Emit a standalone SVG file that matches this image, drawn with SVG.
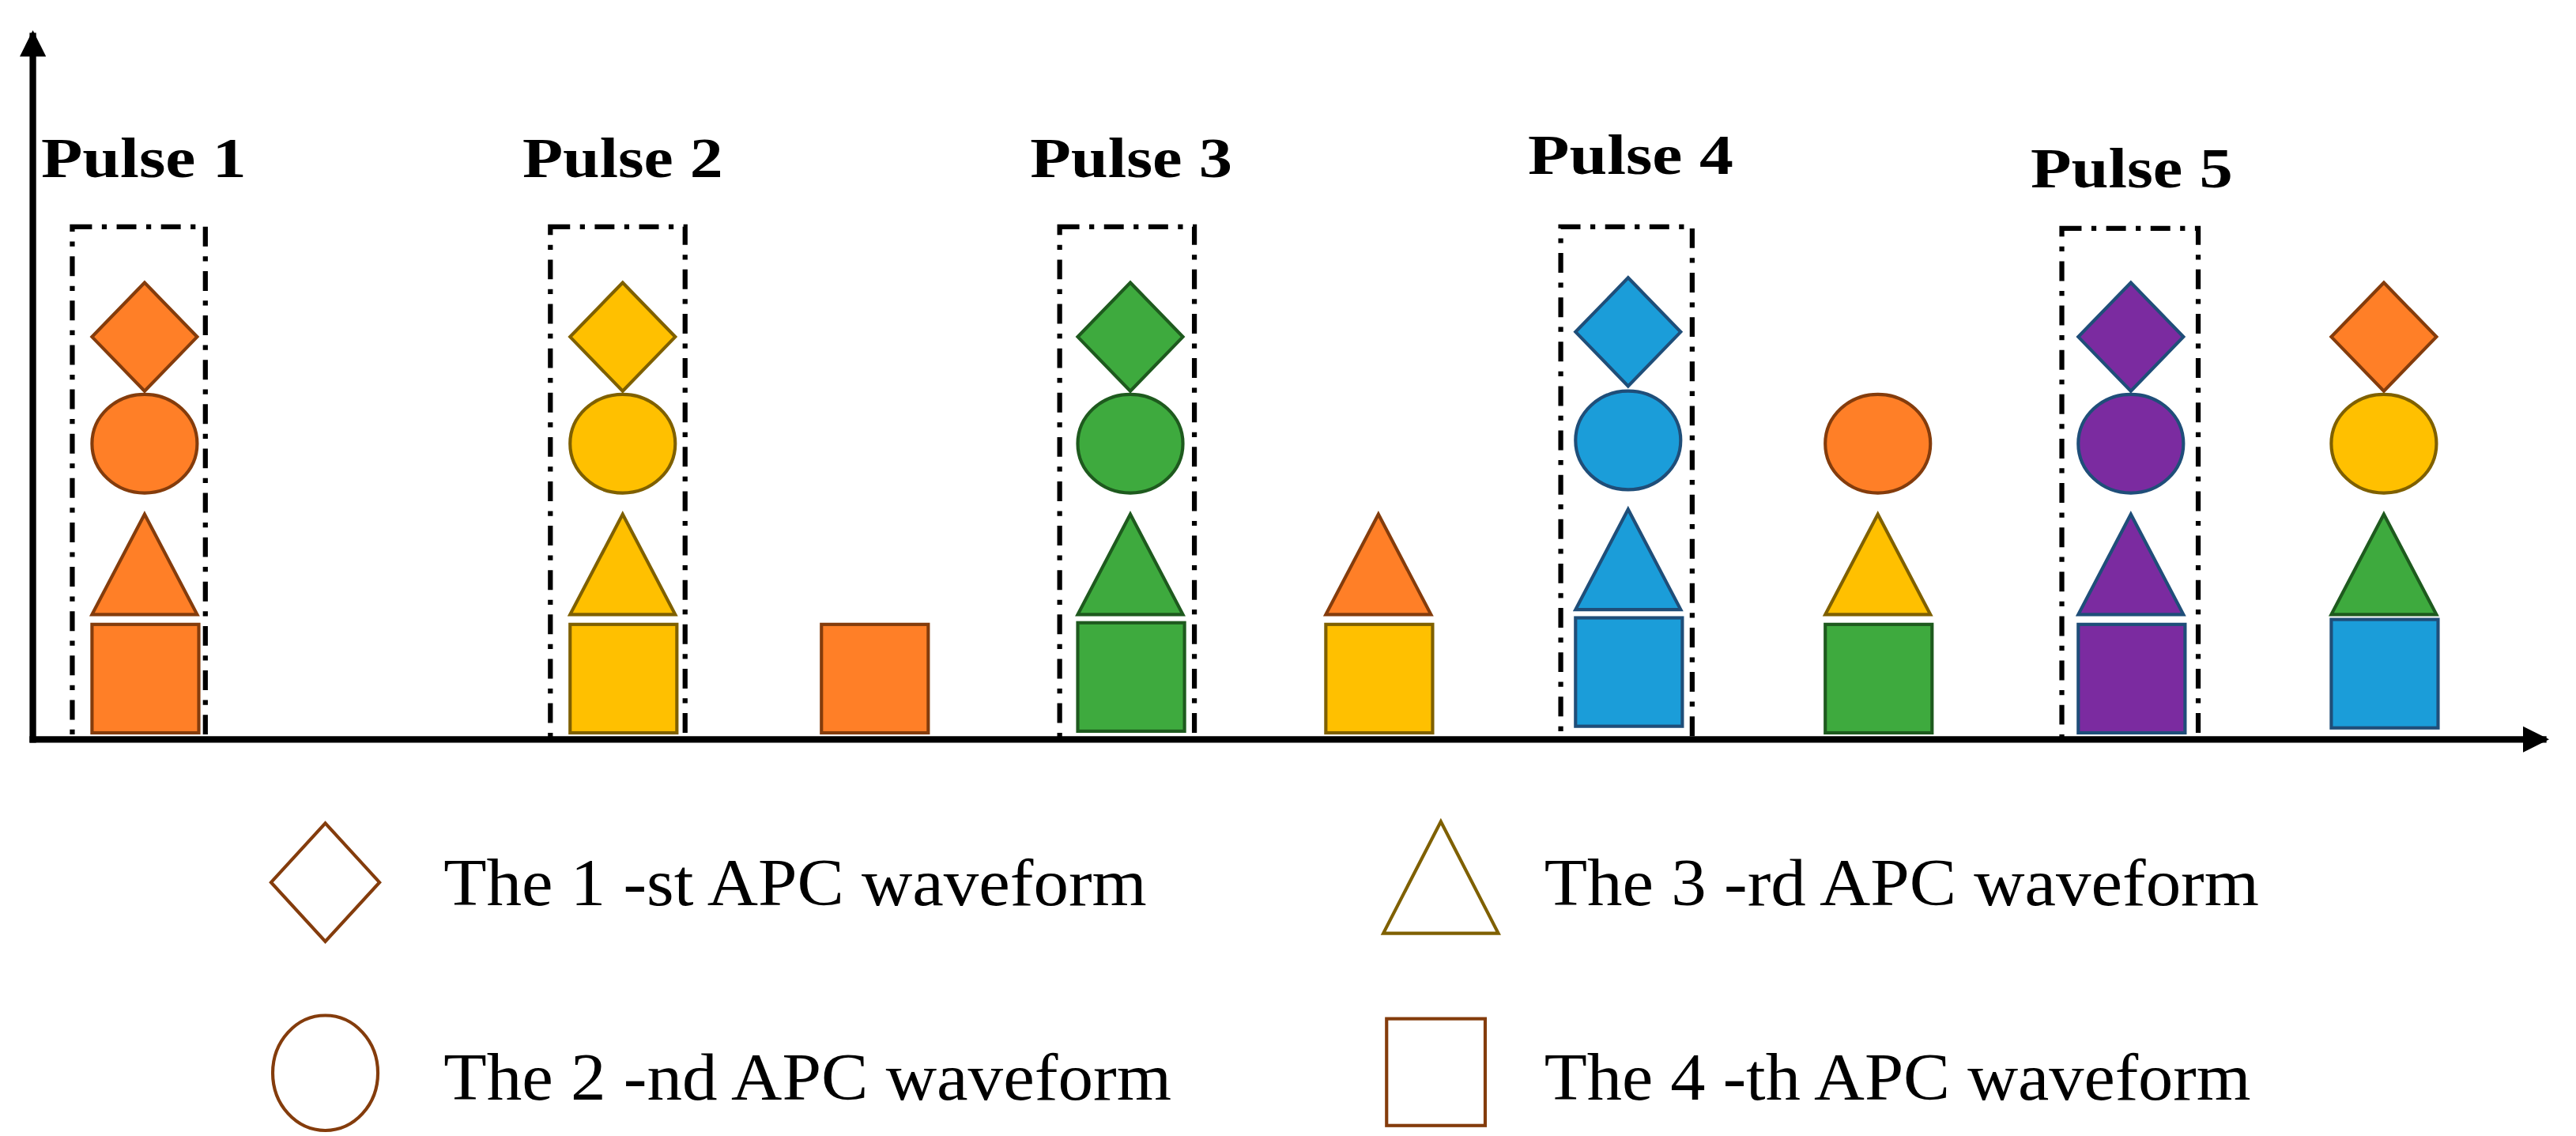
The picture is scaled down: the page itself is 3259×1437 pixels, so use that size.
<svg xmlns="http://www.w3.org/2000/svg" width="3259" height="1437" viewBox="0 0 3259 1437">
<style>
.lbl{font-family:"Liberation Serif",serif;font-weight:bold;font-size:35px;fill:#000}
.leg{font-family:"Liberation Serif",serif;font-size:41px;fill:#000}
.box{fill:none;stroke:#000;stroke-width:3;stroke-dasharray:12,6,3,6}
.o{fill:#FF7F27;stroke:#843C0C;stroke-width:2}
.y{fill:#FFC000;stroke:#7F6000;stroke-width:2}
.g{fill:#3EAA3E;stroke:#1E5A1E;stroke-width:2}
.b{fill:#1B9DD9;stroke:#1F4E79;stroke-width:2}
.p{fill:#7B2BA0;stroke:#1F4E79;stroke-width:2}
.lg{fill:none;stroke:#843C0C;stroke-width:2}
.ly{fill:none;stroke:#7F6000;stroke-width:2}
</style>
<defs>
<marker id="ah" viewBox="0 0 10 10" refX="9" refY="5" markerWidth="4" markerHeight="4" orient="auto"><path d="M0,0L10,5L0,10z" fill="#000"/></marker>
<polygon id="dia" points="0,-33 32,0 0,33 -32,0"/>
<ellipse id="cir" rx="32" ry="30"/>
<polygon id="tri" points="0,-30 32,31 -32,31"/>
<rect id="sq" x="-32" y="-33" width="65" height="66"/>
</defs>
<g transform="scale(2.0785)">
<g id="connectors">
<line x1="20" y1="452" x2="20" y2="20" stroke="#000" stroke-width="4" marker-end="url(#ah)"/>
<line x1="18" y1="450" x2="1550" y2="450" stroke="#000" stroke-width="4" marker-end="url(#ah)"/>
</g>
<g id="pulse1"><text class="lbl" x="25" y="108" textLength="125" lengthAdjust="spacingAndGlyphs">Pulse 1</text><rect class="box" x="44" y="138" width="81" height="312"/>
<use href="#dia" class="o" x="88" y="205"/><use href="#cir" class="o" x="88" y="270"/><use href="#tri" class="o" x="88" y="343"/><use href="#sq" class="o" x="88" y="413"/></g>
<g id="pulse2"><text class="lbl" x="318" y="108" textLength="122" lengthAdjust="spacingAndGlyphs">Pulse 2</text><rect class="box" x="335" y="138" width="82" height="312"/>
<use href="#dia" class="y" x="379" y="205"/><use href="#cir" class="y" x="379" y="270"/><use href="#tri" class="y" x="379" y="343"/><use href="#sq" class="y" x="379" y="413"/></g>
<g id="col532"><use href="#sq" class="o" x="532" y="413"/></g>
<g id="pulse3"><text class="lbl" x="627" y="108" textLength="123" lengthAdjust="spacingAndGlyphs">Pulse 3</text><rect class="box" x="645" y="138" width="82" height="312"/>
<use href="#dia" class="g" x="688" y="205"/><use href="#cir" class="g" x="688" y="270"/><use href="#tri" class="g" x="688" y="343"/><use href="#sq" class="g" x="688" y="412"/></g>
<g id="col839"><use href="#tri" class="o" x="839" y="343"/><use href="#sq" class="y" x="839" y="413"/></g>
<g id="pulse4"><text class="lbl" x="930" y="106" textLength="125" lengthAdjust="spacingAndGlyphs">Pulse 4</text><rect class="box" x="950" y="138" width="80" height="312"/>
<use href="#dia" class="b" x="991" y="202"/><use href="#cir" class="b" x="991" y="268"/><use href="#tri" class="b" x="991" y="340"/><use href="#sq" class="b" x="991" y="409"/></g>
<g id="col1143"><use href="#cir" class="o" x="1143" y="270"/><use href="#tri" class="y" x="1143" y="343"/><use href="#sq" class="g" x="1143" y="413"/></g>
<g id="pulse5"><text class="lbl" x="1236" y="114" textLength="123" lengthAdjust="spacingAndGlyphs">Pulse 5</text><rect class="box" x="1255" y="139" width="83" height="311"/>
<use href="#dia" class="p" x="1297" y="205"/><use href="#cir" class="p" x="1297" y="270"/><use href="#tri" class="p" x="1297" y="343"/><use href="#sq" class="p" x="1297" y="413"/></g>
<g id="col1451"><use href="#dia" class="o" x="1451" y="205"/><use href="#cir" class="y" x="1451" y="270"/><use href="#tri" class="g" x="1451" y="343"/><use href="#sq" class="b" x="1451" y="410"/></g>
<g id="legend1"><polygon class="lg" points="165,537 198,501 231,537 198,573"/><text class="leg" x="270" y="551" textLength="428" lengthAdjust="spacingAndGlyphs">The 1 -st APC waveform</text></g>
<g id="legend2"><ellipse class="lg" cx="198" cy="653" rx="32" ry="35"/><text class="leg" x="270" y="669" textLength="443" lengthAdjust="spacingAndGlyphs">The 2 -nd APC waveform</text></g>
<g id="legend3"><polygon class="ly" points="877,500 912,568 842,568"/><text class="leg" x="940" y="551" textLength="435" lengthAdjust="spacingAndGlyphs">The 3 -rd APC waveform</text></g>
<g id="legend4"><rect class="lg" x="844" y="620" width="60" height="65"/><text class="leg" x="940" y="669" textLength="430" lengthAdjust="spacingAndGlyphs">The 4 -th APC waveform</text></g>
</g>
</svg>
